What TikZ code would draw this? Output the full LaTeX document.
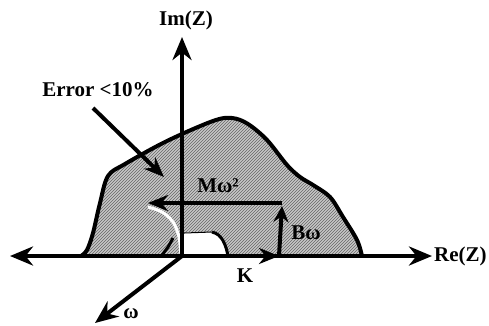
\documentclass[tikz,border=0pt]{standalone}
\usepackage{fontspec}
\setmainfont{Liberation Serif}
\usetikzlibrary{arrows.meta,patterns}
\definecolor{speckle}{RGB}{200, 200, 200}

\begin{document}
\begin{tikzpicture}[x=1pt,y=-1pt,
    axis/.style={line width=4pt, -{Stealth[length=23pt,width=19pt]}},
    vec/.style={line width=4pt, -{Stealth[length=20pt,width=16pt]}},
    lab/.style={font=\bfseries\fontsize{21}{23}\selectfont, inner sep=0pt}]
    \useasboundingbox (0,0) rectangle (489,325);

    % points of the plane
    \coordinate (O) at (182,256);
    \coordinate (left) at (10,256);
    \coordinate (right) at (432,256);
    \coordinate (up) at (182,37);
    \coordinate (down) at (95,323);
    \coordinate (Kend) at (279,256);
    \coordinate (corner) at (282,203);
    \coordinate (Bend) at (282,206);
    \coordinate (Mend) at (148,203);
    \coordinate (Estart) at (93,108);
    \coordinate (Eend) at (164,177);

    % region of error < 10%
    \draw[line width=4pt, preaction={fill=speckle}, pattern=north east lines,
          pattern color=black!60] plot[smooth, tension=0.55] coordinates {
        (81,256) (87,250) (93,233) (100,203) (108,176) (125,164) (167,141)
        (213,121) (232,118) (248,124) (267,140) (287,165)
        (300,177) (313,185) (330,197) (343,217) (357,240) (362,256)};

    % inner boundary and hole
    \draw[white, line width=3pt] plot[smooth] coordinates {
        (148,207) (162,212) (173,222) (179,237) (181,256)};
    \draw[line width=3pt] plot[smooth] coordinates {(162,255) (168,247) (173,238)};
    \fill[white] (183,256) -- (183,236) .. controls (185,232) .. (192,232)
        -- (212,232) .. controls (222,234) and (226,245) .. (228,256) -- cycle;
    \draw[line width=1pt] (184,233) -- (212,232);
    \draw[line width=3pt] (212,232) .. controls (222,234) and (226,245) .. (228,256);

    % axes
    \draw[axis] (O) -- (right);
    \draw[axis] (O) -- (left);
    \draw[axis] (O) -- (up);
    \draw[axis] (O) -- (down);

    % force vectors
    \draw[vec] (O) -- (Kend);
    \draw[line width=4pt, -{Stealth[length=16pt,width=15pt]}] (Kend |- O) -- (Bend);
    \draw[vec] (corner) -- (Mend);
    \draw[vec] (Estart) -- (Eend);

    \node[lab] (im) at (186,20) {Im(Z)};
    \node[lab, anchor=west] (re) at (434,256) {Re(Z)};
    \node[lab] (err) at (98,90) {Error <10\%};
    \node[lab] (om) at (131,314) {ω};
    \node[lab] (k) at (245,276) {K};
    \node[lab] (b) at (306,233) {Bω};
    \node[lab] (m) at (218,186) {Mω²};
\end{tikzpicture}
\end{document}
